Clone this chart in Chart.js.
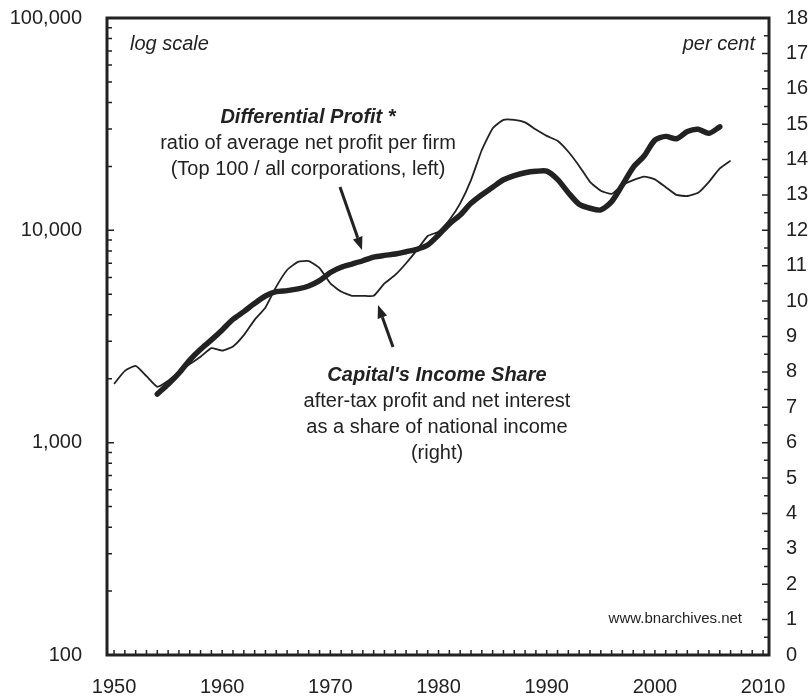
<!DOCTYPE html>
<html>
<head>
<meta charset="utf-8">
<script src="https://cdn.jsdelivr.net/npm/chart.js@4.4.1/dist/chart.umd.min.js"></script>
<style>
  html, body { margin: 0; padding: 0; background: #ffffff; }
  #wrap { width: 811px; height: 696px; position: relative; }
</style>
</head>
<body>
<div id="wrap"><canvas id="c" width="811" height="696"></canvas></div>
<script>
// ---- data ----
const shareYears = [1950,1951,1952,1953,1954,1955,1956,1957,1958,1959,1960,1961,1962,1963,1964,1965,1966,1967,1968,1969,1970,1971,1972,1973,1974,1975,1976,1977,1978,1979,1980,1981,1982,1983,1984,1985,1986,1987,1988,1989,1990,1991,1992,1993,1994,1995,1996,1997,1998,1999,2000,2001,2002,2003,2004,2005,2006,2007];
const incomeShare = [7.66,8.03,8.17,7.88,7.58,7.75,8.0,8.22,8.43,8.67,8.6,8.72,9.04,9.47,9.82,10.41,10.88,11.11,11.13,10.93,10.5,10.27,10.15,10.15,10.15,10.5,10.74,11.07,11.44,11.84,11.96,12.29,12.76,13.42,14.27,14.88,15.12,15.12,15.05,14.85,14.67,14.53,14.22,13.82,13.37,13.12,13.03,13.28,13.42,13.52,13.44,13.22,13.0,12.97,13.06,13.37,13.75,13.97];

const profitYears = [1954,1955,1956,1957,1958,1959,1960,1961,1962,1963,1964,1965,1966,1967,1968,1969,1970,1971,1972,1973,1974,1975,1976,1977,1978,1979,1980,1981,1982,1983,1984,1985,1986,1987,1988,1989,1990,1991,1992,1993,1994,1995,1996,1997,1998,1999,2000,2001,2002,2003,2004,2005,2006];
const differentialProfit = [1694,1884,2123,2450,2754,3048,3397,3813,4141,4531,4906,5140,5200,5297,5470,5794,6330,6700,6940,7190,7480,7620,7735,7930,8144,8535,9506,10715,11810,13400,14700,15950,17300,18100,18670,18960,19020,17380,15040,13270,12710,12470,13650,16370,19800,22390,26600,27700,27000,29200,29950,28640,30740];

const xTickValues = [1950,1960,1970,1980,1990,2000,2010];
const leftTickValues = [100,1000,10000,100000];
const rightTickValues = [0,1,2,3,4,5,6,7,8,9,10,11,12,13,14,15,16,17,18];

const diffTitle = "Differential Profit *";
const diffLines = ["ratio of average net profit per firm", "(Top 100 / all corporations, left)"];
const shareTitle = "Capital's Income Share";
const shareLines = ["after-tax profit and net interest", "as a share of national income", "(right)"];

const INK = '#222222';
const FONT = '"Liberation Sans", Arial, Helvetica, sans-serif';

Chart.defaults.font.family = FONT;
Chart.defaults.color = INK;

function arrow(ctx, x1, y1, x2, y2) {
  const ang = Math.atan2(y2 - y1, x2 - x1);
  const hl = 13, hw = 5;
  const bx = x2 - hl * Math.cos(ang), by = y2 - hl * Math.sin(ang);
  ctx.beginPath();
  ctx.moveTo(x1, y1);
  ctx.lineTo(bx, by);
  ctx.lineWidth = 3;
  ctx.stroke();
  ctx.beginPath();
  ctx.moveTo(x2, y2);
  ctx.lineTo(bx + hw * Math.sin(ang), by - hw * Math.cos(ang));
  ctx.lineTo(bx - hw * Math.sin(ang), by + hw * Math.cos(ang));
  ctx.closePath();
  ctx.fill();
}

function fixVertical(width) {
  return s => { s.width = width; s.paddingTop = 18; s.paddingBottom = 0; };
}

const decor = {
  id: 'decor',
  afterDraw(chart) {
    const { ctx, chartArea: a, scales } = chart;
    const x = scales.x, yL = scales.yL, yR = scales.yR;
    ctx.save();
    ctx.strokeStyle = INK;
    ctx.fillStyle = INK;
    ctx.lineCap = 'butt';
    // x ticks (inside, every year)
    ctx.lineWidth = 1.5;
    ctx.beginPath();
    for (let yr = 1950; yr <= 2010; yr++) {
      const px = x.getPixelForValue(yr);
      ctx.moveTo(px, a.bottom);
      ctx.lineTo(px, a.bottom - 5);
    }
    // left log ticks
    for (let d = 100; d <= 100000; d *= 10) {
      const py = yL.getPixelForValue(d);
      ctx.moveTo(a.left, py); ctx.lineTo(a.left + 7, py);
      if (d < 100000) {
        for (let m = 2; m <= 9; m++) {
          const pm = yL.getPixelForValue(d * m);
          ctx.moveTo(a.left, pm); ctx.lineTo(a.left + 5, pm);
        }
      }
    }
    // right ticks
    for (let v = 0; v <= 18; v += 0.5) {
      const py = yR.getPixelForValue(v);
      const len = (v % 1 === 0) ? 7 : 5;
      ctx.moveTo(a.right, py); ctx.lineTo(a.right - len, py);
    }
    ctx.stroke();
    // frame
    ctx.lineWidth = 3;
    ctx.strokeRect(a.left, a.top, a.right - a.left, a.bottom - a.top);

    // texts
    ctx.textBaseline = 'alphabetic';
    ctx.font = 'italic 20px ' + FONT;
    ctx.textAlign = 'left';
    ctx.fillText('log scale', 130, 50);
    ctx.textAlign = 'right';
    ctx.fillText('per cent', 755, 50);

    ctx.textAlign = 'center';
    ctx.font = 'bold italic 20px ' + FONT;
    ctx.fillText(diffTitle, 308, 123);
    ctx.font = '20px ' + FONT;
    diffLines.forEach((t, i) => ctx.fillText(t, 308, 149 + 26 * i));

    ctx.font = 'bold italic 20px ' + FONT;
    ctx.fillText(shareTitle, 437, 381);
    ctx.font = '20px ' + FONT;
    shareLines.forEach((t, i) => ctx.fillText(t, 437, 407 + 26 * i));

    ctx.textAlign = 'right';
    ctx.font = '15px ' + FONT;
    ctx.fillText('www.bnarchives.net', 742, 623);

    // arrows
    arrow(ctx, 340, 187, 362, 250);
    arrow(ctx, 393, 347, 378, 305);
    ctx.restore();
  }
};

const chart = new Chart(document.getElementById('c'), {
  type: 'line',
  data: {
    datasets: [
      {
        label: 'Differential Profit',
        data: profitYears.map((yr, i) => ({ x: yr, y: differentialProfit[i] })),
        yAxisID: 'yL',
        borderColor: INK,
        borderWidth: 5.5,
        pointRadius: 0,
        tension: 0.25,
        borderJoinStyle: 'round',
        borderCapStyle: 'round',
        fill: false
      },
      {
        label: "Capital's Income Share",
        data: shareYears.map((yr, i) => ({ x: yr, y: incomeShare[i] })),
        yAxisID: 'yR',
        borderColor: INK,
        borderWidth: 1.8,
        pointRadius: 0,
        tension: 0.15,
        borderJoinStyle: 'round',
        fill: false
      }
    ]
  },
  options: {
    responsive: false,
    animation: false,
    devicePixelRatio: 1,
    layout: { padding: { top: 0, left: 0, right: 0, bottom: 0 } },
    plugins: { legend: { display: false }, tooltip: { enabled: false } },
    scales: {
      x: {
        type: 'linear',
        min: 1949.35,
        max: 2010.55,
        afterBuildTicks: s => { s.ticks = xTickValues.map(v => ({ value: v })); },
        afterFit: s => { s.height = 41; s.paddingLeft = 0; s.paddingRight = 0; },
        grid: { display: false, drawTicks: false },
        border: { display: false },
        ticks: { font: { size: 20 }, color: INK, padding: 20, maxRotation: 0, autoSkip: false, callback: v => String(v) }
      },
      yL: {
        type: 'logarithmic',
        position: 'left',
        min: 100,
        max: 100000,
        afterBuildTicks: s => { s.ticks = leftTickValues.map(v => ({ value: v })); },
        afterFit: fixVertical(107),
        grid: { display: false, drawTicks: false },
        border: { display: false },
        ticks: { font: { size: 20 }, color: INK, padding: 25, autoSkip: false, callback: v => Number(v).toLocaleString('en-US') }
      },
      yR: {
        type: 'linear',
        position: 'right',
        min: 0,
        max: 18,
        afterBuildTicks: s => { s.ticks = rightTickValues.map(v => ({ value: v })); },
        afterFit: fixVertical(42),
        grid: { display: false, drawTicks: false },
        border: { display: false },
        ticks: { font: { size: 20 }, color: INK, padding: 17, autoSkip: false, callback: v => String(v) }
      }
    }
  },
  plugins: [decor]
});
</script>
</body>
</html>
